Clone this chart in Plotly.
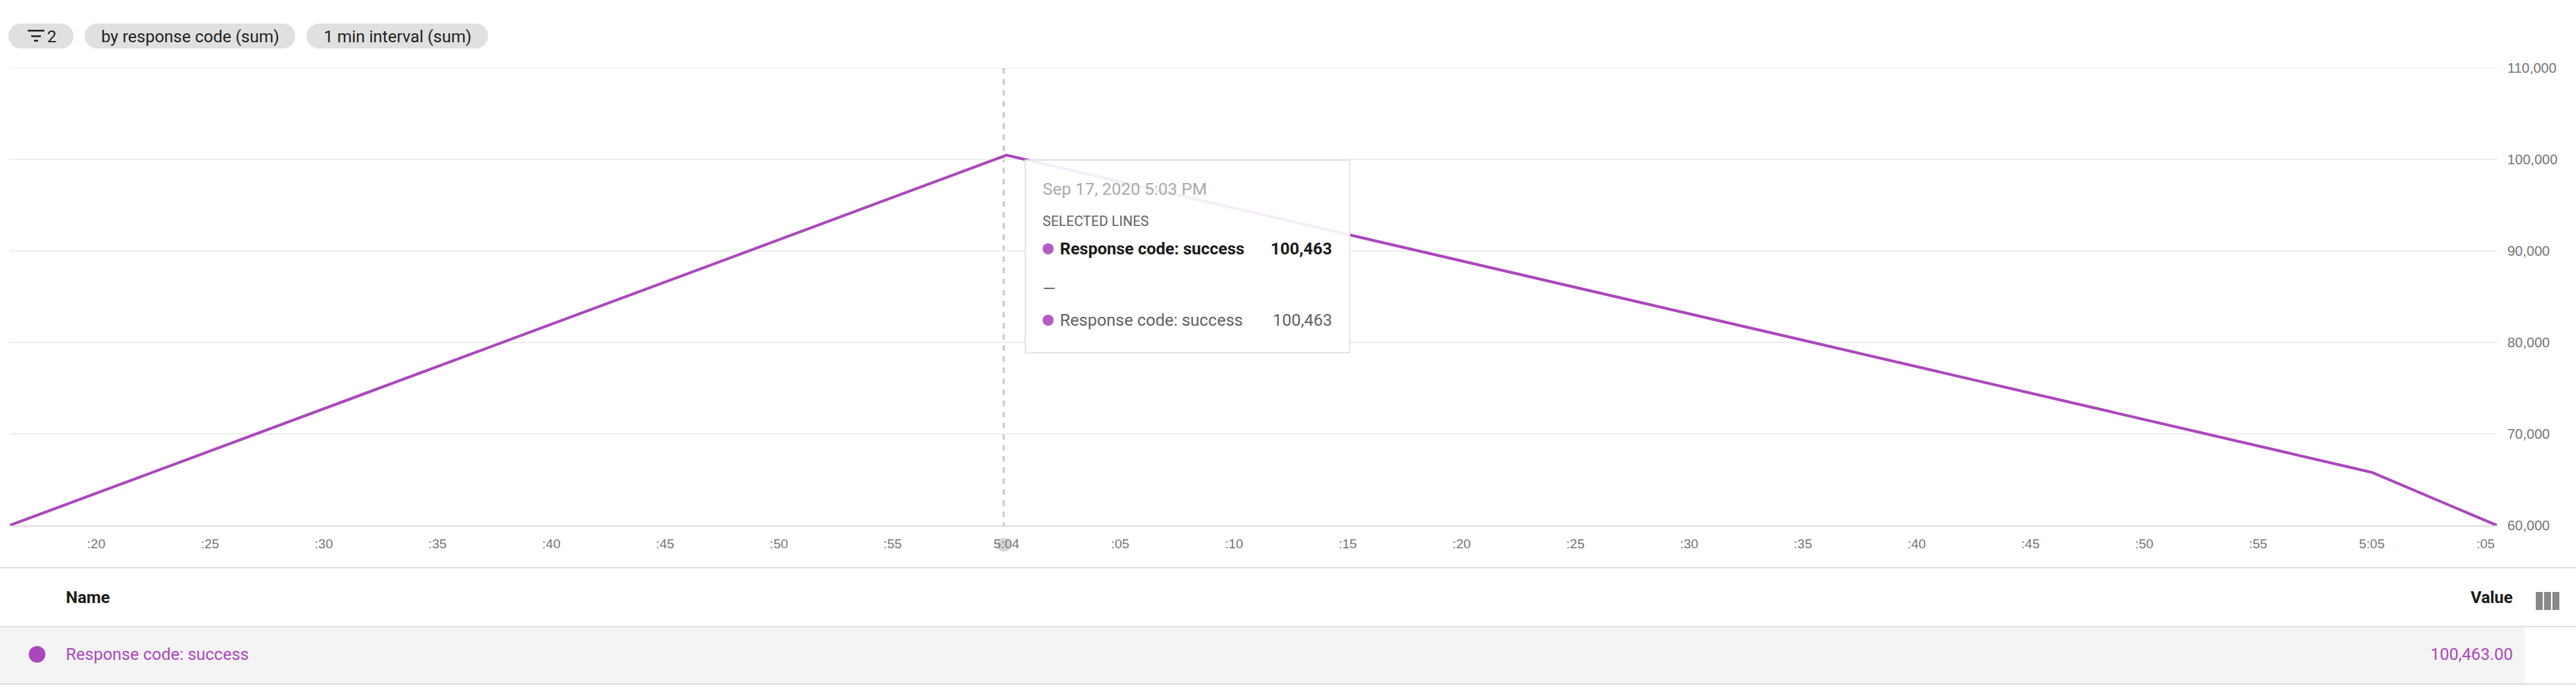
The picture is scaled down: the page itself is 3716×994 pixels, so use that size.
import plotly.graph_objects as go
import pandas as pd

W, H = 3716, 994

# ---- data ----
times = ["2020-09-17 17:03:16.2", "2020-09-17 17:04:00", "2020-09-17 17:05:00", "2020-09-17 17:05:05.5"]
values = [60000, 100463, 65800, 60000]
x_range = ["2020-09-17 17:03:16.2", "2020-09-17 17:05:05.5"]
hover_time = "2020-09-17 17:03:59.88"
y_ticks = [60000, 70000, 80000, 90000, 100000, 110000]
x_tick_labels = [":20", ":25", ":30", ":35", ":40", ":45", ":50", ":55", "5:04",
                 ":05", ":10", ":15", ":20", ":25", ":30", ":35", ":40", ":45", ":50", ":55", "5:05", ":05"]
x_ticks = pd.date_range("2020-09-17 17:03:20", periods=len(x_tick_labels), freq="5s")
series_name = "Response code: success"
chips = ["by response code (sum)", "1 min interval (sum)"]
chip_count = "2"
tooltip_title = "Sep 17, 2020 5:03 PM"
tooltip_section = "SELECTED LINES"
tooltip_value = "100,463"
table_headers = ["Name", "Value"]
table_value = "100,463.00"

PURPLE = "#ab47bc"
TIP_DOT = "#b45cc4"
ROBOTO = "Roboto, sans-serif"


def px(x):
    return x / W


def py(y):
    return 1 - y / H


shapes, annos = [], []


def rect(x0, y0, x1, y1, fill, line=None, lw=0, layer="below"):
    shapes.append(dict(type="rect", xref="paper", yref="paper", x0=px(x0), x1=px(x1), y0=py(y0), y1=py(y1),
                       fillcolor=fill, line=dict(color=line or fill, width=lw), layer=layer))


def dot(cx, cy, r, fill, layer="below"):
    shapes.append(dict(type="circle", xref="paper", yref="paper", x0=px(cx - r), x1=px(cx + r),
                       y0=py(cy - r), y1=py(cy + r), fillcolor=fill, line=dict(width=0), layer=layer))


def pill(x0, y0, x1, y1, fill):
    r = (y1 - y0) / 2
    k = r * 0.5523
    P = lambda x, y: f"{px(x):.6f},{py(y):.6f}"
    d = (f"M{P(x0 + r, y0)} L{P(x1 - r, y0)} "
         f"C{P(x1 - r + k, y0)} {P(x1, y0 + r - k)} {P(x1, y0 + r)} "
         f"C{P(x1, y0 + r + k)} {P(x1 - r + k, y1)} {P(x1 - r, y1)} "
         f"L{P(x0 + r, y1)} "
         f"C{P(x0 + r - k, y1)} {P(x0, y0 + r + k)} {P(x0, y0 + r)} "
         f"C{P(x0, y0 + r - k)} {P(x0 + r - k, y0)} {P(x0 + r, y0)} Z")
    shapes.append(dict(type="path", xref="paper", yref="paper", path=d, fillcolor=fill, line=dict(width=0), layer="below"))


def text(x, y, s, size=24, color="#212121", anchor="left", family=ROBOTO):
    annos.append(dict(xref="paper", yref="paper", x=px(x), y=py(y), text=s, showarrow=False, xanchor=anchor,
                      yanchor="middle", align=anchor, borderpad=0, borderwidth=0,
                      font=dict(family=family, size=size, color=color)))


# chips
pill(12, 34, 106, 70, "#e0e0e0")
pill(122, 34, 426, 70, "#e0e0e0")
pill(442, 34, 704, 70, "#e0e0e0")
rect(40, 43, 64, 45.5, "#212121")
rect(45, 51, 59, 53.5, "#212121")
rect(49, 57.5, 55, 60, "#212121")
text(68, 53, chip_count)
text(274, 53, chips[0], anchor="center")
text(573, 53, chips[1], anchor="center")

# gridline at the top edge of the range
shapes.append(dict(type="line", xref="paper", yref="y", x0=px(14), x1=px(3602), y0=y_ticks[-1], y1=y_ticks[-1],
                   line=dict(color="#eeeeee", width=2), layer="below"))

# hover marker
shapes.append(dict(type="line", xref="x", yref="paper", x0=hover_time, x1=hover_time, y0=py(98), y1=py(758),
                   line=dict(color="#c8c8c8", width=3, dash="8px,8px"), layer="below"))
dot(1448, 786, 10, "#d4d4d4")

# tooltip
rect(1479, 231, 1947, 509, "rgba(255,255,255,0.9)", "#e4e4e4", 2, layer="above")
text(1504, 272, tooltip_title, size=24.5, color="#aaaaaa")
text(1504, 319, tooltip_section, size=20, color="#616161")
dot(1512, 359, 8, TIP_DOT, layer="above")
text(1528.5, 359, f"<b>{series_name}</b>", size=24, color="#1a1a1a")
text(1922, 359, f"<b>{tooltip_value}</b>", size=24, color="#1a1a1a", anchor="right")
text(1504, 417, "—", size=24, color="#616161")
dot(1512, 462, 8, TIP_DOT, layer="above")
text(1528.5, 462, series_name, size=24, color="#616161")
text(1922, 462, tooltip_value, size=24, color="#616161", anchor="right")

# table
rect(0, 904, 3642, 986, "#f4f4f4")
rect(0, 818, W, 820, "#e0e0e0")
rect(0, 903, W, 905, "#e0e0e0")
rect(0, 986, W, 988, "#dcdcdc")
text(94.5, 862, f"<b>{table_headers[0]}</b>", color="#1a1a1a")
text(3625, 862, f"<b>{table_headers[1]}</b>", color="#1a1a1a", anchor="right")
rect(3658, 854, 3668, 880, "#888888")
rect(3670, 854, 3680, 880, "#888888")
rect(3682, 854, 3692, 880, "#888888")
dot(53.5, 944, 12, PURPLE)
text(94.5, 944, series_name, color=PURPLE)
text(3625, 944, table_value, color=PURPLE, anchor="right")

fig = go.Figure(go.Scatter(x=times, y=values, mode="lines", name=series_name, cliponaxis=False,
                           line=dict(color=PURPLE, width=4, shape="linear"), hoverinfo="skip"))
x_tick_font = dict(family="Liberation Sans, Arial, sans-serif", size=19, color="#757575")
y_tick_font = dict(family="Liberation Sans, Arial, sans-serif", size=20, color="#757575")
fig.update_layout(
    width=W, height=H, margin=dict(l=0, r=0, t=0, b=0, autoexpand=False), paper_bgcolor="white", plot_bgcolor="white",
    showlegend=False, shapes=shapes, annotations=annos,
    xaxis=dict(type="date", domain=[px(14), px(3602)], range=x_range, tickmode="array", tickvals=list(x_ticks),
               ticktext=x_tick_labels, tickangle=0, showgrid=False, zeroline=False, ticks="", showline=True,
               linecolor="#dddddd", linewidth=2, tickfont=x_tick_font, ticklabelstandoff=8),
    yaxis=dict(domain=[py(758), py(98)], range=[60000, 110000], side="right", tickmode="array", tickvals=y_ticks,
               tickformat=",", showgrid=True, gridcolor="#eeeeee", gridwidth=2, zeroline=False, ticks="",
               showline=False, tickfont=y_tick_font, ticklabelstandoff=14),
)
fig.write_html("out.html", config=dict(displayModeBar=False), post_script="document.body.style.margin='0';")
